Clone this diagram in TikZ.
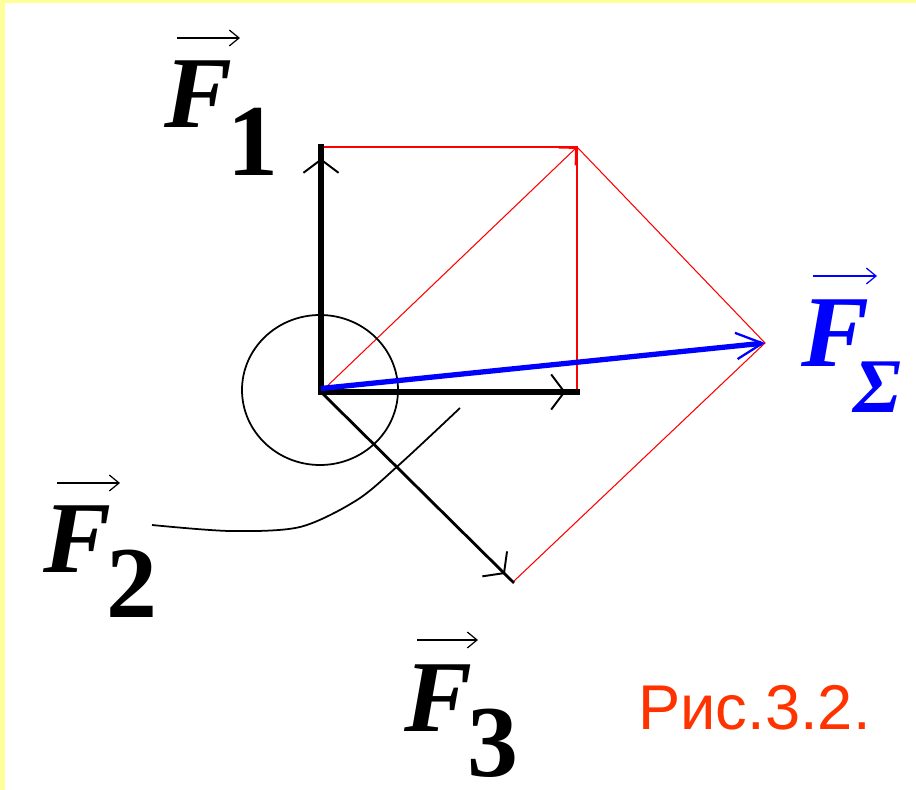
\documentclass[tikz,border=0pt]{standalone}
\usepackage{fontspec}
\setmainfont{Liberation Serif}
\setsansfont{Liberation Sans}
\usetikzlibrary{arrows.meta, decorations.markings}
\definecolor{paleyellow}{RGB}{255,255,153}
\definecolor{figred}{RGB}{255,51,0}

\begin{document}
\begin{tikzpicture}[x=0.02cm, y=-0.02cm,
    force/.style={line width=3.2pt, black, line cap=rect},
    chev/.style={postaction={decorate}, decoration={markings,
        mark=at position -6.5pt with {\arrow{Straight Barb[length=7.5pt, width=20pt, line width=1.1pt]}}}},
    rline/.style={red, line width=0.6pt},
    flab/.style={font=\fontsize{58}{60}\selectfont\bfseries\itshape,
                 inner sep=0pt, anchor=base west},
    ovarr/.style={line width=0.7pt,
                  -{Straight Barb[length=5.5pt, width=9pt, line width=0.7pt]}},
  ]
    % background and frame
    \useasboundingbox (0,0) rectangle (916,790);
    \fill[paleyellow] (0,0) rectangle (916,790);
    \fill[white] (5,3) rectangle (916,790);

    \coordinate (O)  at (321,392);
    \coordinate (A1) at (321,147);
    \coordinate (A2) at (577,392);
    \coordinate (C)  at (577,147);
    \coordinate (S)  at (765,343);
    \coordinate (A3) at (513,582);

    % parallelogram construction
    \draw[red, line width=1.6pt] (A1) -- (C) -- (A2);
    \draw[rline, -{Straight Barb[length=7pt, width=14pt, line width=1.1pt]}] (O) -- (C);
    \draw[rline] (C) -- (S) -- (A3);

    % circle and leader
    \draw[line width=1pt] (320,390) ellipse[x radius=78, y radius=75];
    \draw[line width=1pt] plot[smooth] coordinates
      {(152,525) (230,531) (300,527) (357,500) (400,464) (460,408)};

    % forces
    \draw[force, chev] (O) -- (A1);
    \draw[force, chev] (O) -- (A2);
    \draw[force, line width=1.6pt, chev] (O) -- (A3);
    \draw[blue, line width=3pt,
          -{Straight Barb[length=15pt, width=15pt, line width=1.3pt]}]
      ([yshift=2pt]O) -- (S);

    % labels
    \node[flab] (f1) at (164,128) {F\kern-0.05em\raisebox{-0.47em}{\upshape 1}};
    \draw[ovarr] ([shift={(13,-90)}]f1.base west) -- ++(63,0);

    \node[flab] (f2) at (43,572) {F\kern-0.05em\raisebox{-0.45em}{\upshape 2}};
    \draw[ovarr] ([shift={(14,-89)}]f2.base west) -- ++(63,0);

    \node[flab] (f3) at (404,731) {F\kern-0.05em\raisebox{-0.45em}{\upshape 3}};
    \draw[ovarr] ([shift={(13,-91)}]f3.base west) -- ++(61,0);

    \node[flab, text=blue] (fs) at (801,367)
      {F\kern-0.16em\raisebox{-0.45em}{\fontsize{44}{46}\selectfont Σ}};
    \draw[ovarr, blue] ([shift={(12,-91)}]fs.base west) -- ++(64,0);

    \node[font=\sffamily\fontsize{36}{40}\selectfont, text=figred,
          inner sep=0pt, anchor=base west] (cap) at (638,729) {Рис.3.2.};
\end{tikzpicture}
\end{document}
